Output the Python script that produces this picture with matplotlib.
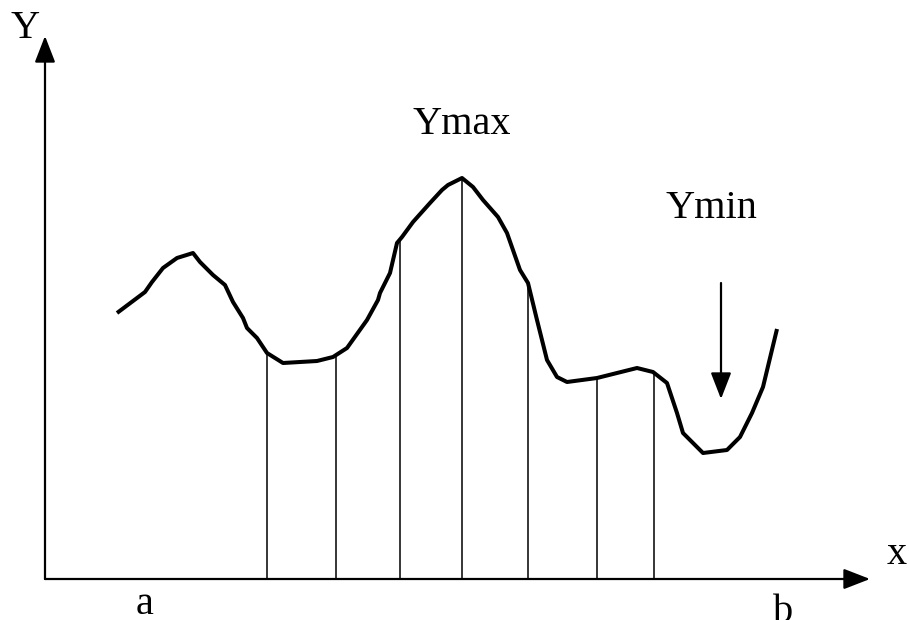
import matplotlib
matplotlib.use("Agg")
import matplotlib.pyplot as plt
import numpy as np

# curve (pixel coords, y downwards)
curve_x = [117, 145, 152, 163, 177, 193, 200, 213, 225, 233, 243, 247, 257, 267,
           283, 317, 333, 347, 367, 378, 380, 390, 397, 402, 413, 430, 442, 448,
           462, 473, 483, 498, 507, 520, 528, 537, 547, 557, 567, 597, 637, 653,
           667, 677, 683, 703, 727, 740, 752, 763, 777]
curve_y = [313, 292, 282, 268, 258, 253, 262, 275, 285, 302, 318, 328, 338, 353,
           363, 361, 357, 348, 320, 300, 293, 273, 243, 237, 222, 203, 190, 185,
           178, 187, 200, 217, 233, 270, 283, 320, 360, 377, 382, 378, 368, 372,
           383, 413, 433, 453, 450, 437, 413, 387, 329]

# ordinates dropped to the x axis
strips_x = [267, 336, 400, 462, 528, 597, 654]

origin = (45, 579)
x_end = 870
y_end = 36

labels = [("Y", 25, 29), ("x", 897, 555), ("a", 145, 605), ("b", 783, 612),
          ("Ymax", 462, 125), ("Ymin", 711, 208)]
ymin_arrow = (721, 283, 399)

plt.rcParams["font.family"] = ["Liberation Serif", "DejaVu Serif"]

fig = plt.figure(figsize=(9.09, 6.2), dpi=100)
ax = fig.add_axes([0, 0, 1, 1])
ax.set_xlim(0, 909)
ax.set_ylim(620, 0)
ax.axis("off")

# axes with arrow heads
arrow = dict(arrowstyle="-|>,head_length=0.9,head_width=0.35", color="black",
             lw=1.6, shrinkA=0, shrinkB=0, mutation_scale=18)
ax.annotate("", xy=(x_end, origin[1]), xytext=origin, arrowprops=arrow)
ax.annotate("", xy=(origin[0], y_end), xytext=origin, arrowprops=arrow)

# the curve
ax.plot(curve_x, curve_y, color="black", lw=2.9, solid_joinstyle="round",
        solid_capstyle="butt")

# vertical strips
tops = np.interp(strips_x, curve_x, curve_y)
ax.vlines(strips_x, tops, origin[1], color="black", lw=1.1)

# arrow pointing at the minimum
ax.annotate("", xy=(ymin_arrow[0], ymin_arrow[2]),
            xytext=(ymin_arrow[0], ymin_arrow[1]), arrowprops=arrow)

for txt, x, y in labels:
    ax.text(x, y, txt, fontsize=29, ha="center", va="center")

fig.savefig("out.png", dpi=100)
